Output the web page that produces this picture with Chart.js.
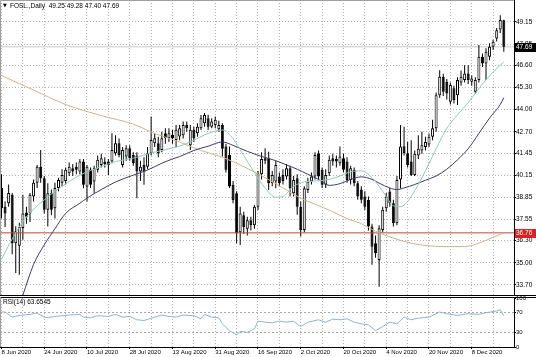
<!DOCTYPE html>
<html><head><meta charset="utf-8">
<script src="https://cdn.jsdelivr.net/npm/chart.js@4.4.1/dist/chart.umd.min.js"></script>
<style>
html,body{margin:0;padding:0;background:#fff;}
#wrap{position:relative;width:536px;height:357px;overflow:hidden;background:#fff;}
#main{position:absolute;left:0;top:0;}
#rsi{position:absolute;left:0;top:296px;}
</style></head><body>
<div id="wrap">
<canvas id="main" width="536" height="296"></canvas>
<canvas id="rsi" width="536" height="61"></canvas>
</div>
<script>
// ---------- DATA ----------
const symbol = 'FOSL.,Daily';
const open = [39.4,38.3,38.5,39.0,36.15,36.0,37.05,37.95,37.9,38.9,
39.7,40.65,39.97,38.11,39.09,38.2,39.4,39.7,39.8,40.26,
40.56,40.65,40.36,40.95,39.48,40.46,39.77,40.46,40.75,40.95,
40.95,40.95,41.44,42.02,40.75,41.24,41.73,41.34,41.3,40.36,
40.75,40.65,41.44,42.02,42.02,41.63,42.61,42.32,42.52,42.22,
42.42,42.5,43.1,41.9,42.81,42.61,42.91,43.2,43.49,43.0,
43.1,42.85,43.1,41.83,41.34,39.58,39.09,36.8,37.8,37.0,
37.5,37.2,38.3,40.2,41.14,41.14,39.68,39.77,40.07,40.16,
40.07,40.56,39.09,39.97,38.3,36.93,39.28,39.77,40.07,41.44,
40.46,39.58,40.26,41.14,41.1,40.85,41.14,40.95,39.87,40.46,
39.68,39.3,38.9,38.69,37.13,36.15,35.17,36.93,38.2,39.19,
38.5,37.33,39.9,41.85,41.43,40.95,40.16,41.3,41.6,41.8,
41.95,42.4,42.9,44.85,45.93,45.64,44.46,45.25,44.85,45.6,
45.74,46.12,45.64,45.05,45.74,47.1,46.71,47.1,47.69,48.18,
48.7,49.25];
const high = [40.2,38.6,39.6,39.1,37.15,37.35,39.0,38.3,39.1,39.9,
40.75,41.63,40.1,39.68,39.3,39.7,40.0,40.5,40.6,40.9,
40.8,40.9,41.1,41.1,40.75,40.6,40.7,41.3,41.4,41.2,
41.1,42.61,42.5,42.3,41.8,41.9,41.9,41.5,41.5,41.0,
41.2,41.8,43.59,42.6,42.4,42.7,42.9,42.9,42.8,43.1,
43.1,43.3,43.3,43.1,43.0,43.2,43.69,43.8,43.7,43.5,
43.6,43.35,43.2,42.0,41.83,39.8,39.2,38.3,38.0,37.7,
37.7,38.4,40.4,41.5,41.73,41.53,40.4,41.0,40.3,40.5,
40.8,40.7,40.1,40.2,38.6,39.5,40.0,40.3,41.5,41.6,
40.6,40.5,41.3,41.4,41.3,41.83,41.4,41.2,40.7,40.6,
39.8,39.5,39.2,38.9,37.3,36.6,37.2,38.3,39.1,39.4,
38.7,40.1,43.09,43.0,42.1,42.2,41.6,42.5,42.7,42.4,
42.6,43.4,45.0,46.32,46.1,45.8,45.6,45.4,45.9,46.3,
46.6,46.6,46.0,45.9,47.79,47.3,47.6,47.9,48.1,48.8,
49.55,49.28];
const low = [37.6,37.1,38.3,35.5,34.4,34.3,36.35,37.3,37.4,38.6,
39.4,39.7,37.9,37.13,37.8,37.6,39.2,39.5,39.6,40.1,
40.1,40.2,40.2,39.38,38.6,39.4,39.09,40.3,40.6,40.6,
40.16,40.85,41.3,41.2,40.6,41.0,41.0,40.7,38.8,39.8,
39.58,40.5,41.3,41.8,41.2,41.5,42.0,42.1,42.0,41.8,
42.2,42.3,42.7,41.63,42.1,42.4,42.8,43.0,42.8,42.9,
42.9,42.7,41.24,40.3,39.4,38.5,36.15,36.05,36.7,36.6,
36.9,37.0,38.1,39.9,40.8,39.28,39.5,39.38,39.5,39.6,
39.9,38.89,38.9,37.82,36.54,36.8,39.1,39.6,39.9,39.9,
39.4,39.4,40.1,40.7,40.6,40.7,40.3,39.7,39.6,39.5,
38.7,38.5,38.1,36.9,34.88,35.3,33.6,36.8,38.0,38.3,
37.13,37.2,39.37,41.3,40.6,40.1,40.1,41.1,41.4,41.6,
41.8,42.2,42.7,44.7,44.8,44.6,44.3,44.36,44.27,45.4,
45.6,45.5,45.4,44.95,45.6,46.5,45.74,46.9,47.5,48.0,
48.5,47.40];
const close = [38.2,37.9,39.1,36.15,36.85,37.1,37.9,37.7,39.0,39.7,
40.65,39.97,38.11,39.09,38.11,39.4,39.87,40.16,40.46,40.65,
40.36,40.46,40.95,39.58,40.65,39.58,40.56,41.05,41.14,40.8,
40.75,41.63,42.02,41.34,41.63,41.73,41.14,40.85,40.36,40.65,
40.36,41.44,42.22,42.32,41.44,42.32,42.32,42.61,42.32,42.81,
42.91,43.1,42.91,42.81,42.32,43.0,43.49,43.69,43.0,43.3,
43.4,43.1,41.7,40.46,39.48,38.69,36.74,37.9,37.1,37.5,
37.2,38.3,40.26,41.1,41.0,39.68,40.16,40.75,39.68,39.8,
40.56,39.38,39.87,38.3,36.93,39.38,39.77,40.07,41.34,40.07,
39.58,40.16,41.05,40.95,40.95,41.24,40.46,39.87,40.56,39.68,
38.89,38.7,38.3,37.13,35.95,35.56,37.03,38.11,38.89,38.5,
37.33,39.87,41.83,41.45,40.74,40.16,41.4,41.7,41.9,42.1,
42.4,42.9,44.85,45.93,45.05,44.95,45.44,44.56,45.74,45.93,
46.12,45.74,45.83,45.74,47.1,46.71,47.4,47.69,47.99,48.67,
49.27,47.69];

// moving averages, read at sampled bars
const maFastIdx = [0,3,7,12,16,22,28,32,37,42,46,50,54,58,62,65,68,71,74,77,79,82,85,88,92,95,98,101,104,106,108,110,112,114,117,119,122,125,128,131,135,138,141];
const maFastVal = [35.2,36.4,37.7,38.7,39.35,40.15,40.65,40.95,41.15,41.45,41.65,41.85,42.2,42.6,42.8,42.3,41.3,40.3,39.4,38.85,38.9,39.5,39.75,39.8,39.9,40.1,40.35,40.4,40.0,39.5,38.9,38.35,38.3,38.6,39.6,40.4,41.7,42.9,43.7,44.4,45.5,46.2,46.8];
const maMidIdx = [6,9,12,15,18,22,24,28,32,37,41,45,48,50,54,58,62,65,69,73,77,80,83,86,89,92,95,98,101,104,106,109,111,113,116,119,122,125,128,131,134,137,140,141];
const maMidVal = [33.1,34.9,36.05,37.0,37.9,38.5,38.8,39.3,39.75,40.15,40.45,40.85,41.1,41.24,41.6,41.85,42.1,41.9,41.55,41.25,41.0,40.75,40.5,40.2,39.9,39.55,39.65,39.9,40.05,39.9,39.68,39.4,39.3,39.4,39.6,39.85,40.1,40.5,41.05,41.7,42.6,43.5,44.3,44.7];
const maSlowIdx = [0,9,18,28,37,43,50,56,62,68,74,79,84,88,93,97,101,105,110,115,120,125,130,134,138,141];
const maSlowVal = [46.0,45.15,44.3,43.65,43.15,42.6,42.1,41.6,41.2,40.65,40.0,39.4,38.8,38.45,38.0,37.6,37.3,36.85,36.45,36.15,36.0,35.95,35.95,36.15,36.5,36.75];

const levelLine = 36.76;
const bidPrice = 47.69;

// RSI(14), read at sampled bars
const rsiIdx = [0,1,3,5,8,10,12,13,15,19,22,23,25,27,30,32,34,36,38,40,43,45,47,49,51,54,56,57,59,61,62,64,66,67,69,71,72,74,76,78,80,82,84,86,89,91,93,95,97,99,101,103,105,107,109,111,113,115,117,120,123,125,128,131,134,136,139,140,141];
const rsiVal = [71.4,71.4,61,64.5,66.6,69.3,61,60,62.4,65.2,66.6,61,59.7,63.8,62.4,66.6,61,62.4,55.5,54.1,61,65.2,62.4,61,65.2,63.8,57.6,66.6,61,59.7,47.2,33.4,24.5,32,30,36.9,52.8,50.7,49.3,52.8,50.7,52.8,41.7,50.7,55.5,50.7,56.9,55.5,57.6,50.7,47.2,45.2,33.4,41.7,50.7,47.2,61,55.5,59,61,71.4,67.9,64.5,67.9,66.6,70,73.4,76.2,63.65];
const rsiLabel = 'RSI(14) 63.6545';

// tick labels
const priceTicks = [33.70,35.00,36.30,37.55,38.85,40.15,41.45,42.70,44.00,45.30,46.60,47.85,49.15];
const rsiTicks = [0,30,70,100];
const rsiLevels = [30,70];
const dateTickIdx = [0,12,24,36,48,60,72,84,96,108,120,132];
const dateTickLabels = ['8 Jun 2020','24 Jun 2020','10 Jul 2020','28 Jul 2020','13 Aug 2020','31 Aug 2020','16 Sep 2020','2 Oct 2020','20 Oct 2020','4 Nov 2020','20 Nov 2020','8 Dec 2020'];

// ---------- LAYOUT / STYLE ----------
const FONT = 'Liberation Sans';
Chart.defaults.font.family = FONT;
Chart.defaults.color = '#000';
const X_MIN = -0.42, X_MAX = 143.86;
const Y_MIN = 33.05, Y_MAX = 50.44;
const AXIS_W = 22;
const GRID = '#b4b4b4';
const gridIdx = [];
for (let i = 0; i <= 141; i += 6) gridIdx.push(i);

const pts = (ix, vals) => ix.map((x, k) => ({x, y: vals[k]}));
const n = open.length;
const bodies = open.map((o, i) => ({x: i, y: [Math.min(o, close[i]), Math.max(o, close[i])]}));
const wicks = low.map((l, i) => ({x: i, y: [l, high[i]]}));
const isUp = open.map((o, i) => close[i] >= o);

function fixY(scale){ scale.width = AXIS_W; scale.paddingTop = 0; scale.paddingBottom = 0; }

const mainPlugin = {
  id: 'mainDecor',
  afterDraw(chart){
    const {ctx, chartArea: a, scales: {y}} = chart;
    ctx.save();
    ctx.strokeStyle = '#a0a0a0'; ctx.lineWidth = 1;
    ctx.beginPath(); ctx.moveTo(0.5, a.bottom); ctx.lineTo(0.5, 0.5); ctx.lineTo(a.right, 0.5); ctx.stroke();
    ctx.strokeStyle = '#000';
    ctx.beginPath(); ctx.moveTo(a.right + 0.5, 0); ctx.lineTo(a.right + 0.5, a.bottom); ctx.stroke();
    ctx.beginPath(); ctx.moveTo(0, a.bottom - 0.5); ctx.lineTo(536, a.bottom - 0.5); ctx.stroke();
    const box = (v, bg) => {
      const py = Math.round(y.getPixelForValue(v));
      ctx.fillStyle = bg; ctx.fillRect(a.right + 1, py - 4, AXIS_W, 9);
      ctx.fillStyle = '#fff'; ctx.font = '6.5px "' + FONT + '"';
      ctx.textAlign = 'left'; ctx.textBaseline = 'middle';
      ctx.fillText(v.toFixed(2), a.right + 2, py + 0.5);
    };
    box(bidPrice, '#000');
    box(levelLine, '#e0201e');
    const k = n - 1;
    ctx.fillStyle = '#000'; ctx.textAlign = 'left'; ctx.textBaseline = 'middle';
    ctx.font = '5px "DejaVu Sans"';
    ctx.fillText('▼', 3, 6);
    ctx.font = '6.5px "' + FONT + '"';
    ctx.fillText(symbol + '  ' + [open[k], high[k], low[k], close[k]].map(v => v.toFixed(2)).join(' '), 10, 6);
    ctx.restore();
  }
};

new Chart(document.getElementById('main'), {
  type: 'bar',
  data: {
    datasets: [
      {type: 'line', data: pts(maFastIdx, maFastVal), borderColor: '#8ec9bd', borderWidth: 1, pointRadius: 0, cubicInterpolationMode: 'monotone', order: 0},
      {type: 'line', data: pts(maMidIdx, maMidVal), borderColor: '#3c3c6a', borderWidth: 1, pointRadius: 0, cubicInterpolationMode: 'monotone', order: 0},
      {type: 'line', data: pts(maSlowIdx, maSlowVal), borderColor: '#cdb48f', borderWidth: 1, pointRadius: 0, cubicInterpolationMode: 'monotone', order: 0},
      {type: 'line', data: [{x: X_MIN, y: levelLine}, {x: X_MAX, y: levelLine}], borderColor: '#c44536', borderWidth: 1, pointRadius: 0, order: 0},
      {type: 'line', data: [{x: X_MIN, y: bidPrice}, {x: X_MAX, y: bidPrice}], borderColor: '#c8c8c8', borderWidth: 1, pointRadius: 0, order: 3},
      {type: 'bar', data: bodies, backgroundColor: bodies.map((b, i) => isUp[i] ? '#ffffff' : '#000000'), borderColor: '#000', borderWidth: 1, borderSkipped: false, inflateAmount: 0, grouped: false, barPercentage: 1, categoryPercentage: 1, maxBarThickness: 3, minBarLength: 1, order: 1},
      {type: 'bar', data: wicks, backgroundColor: '#000', borderWidth: 0, inflateAmount: 0, grouped: false, barPercentage: 1, categoryPercentage: 1, maxBarThickness: 1, order: 2}
    ]
  },
  options: {
    responsive: false, animation: false, events: [],
    layout: {padding: 0},
    plugins: {legend: {display: false}, tooltip: {enabled: false}},
    scales: {
      x: {type: 'linear', min: X_MIN, max: X_MAX, offset: false,
        afterBuildTicks: s => { s.ticks = gridIdx.map(v => ({value: v})); },
        afterFit: s => { s.height = 0; s.paddingLeft = 0; s.paddingRight = 0; },
        ticks: {display: false},
        grid: {color: GRID, drawTicks: false, offset: false},
        border: {display: false, dash: [1, 2]}},
      y: {type: 'linear', position: 'right', min: Y_MIN, max: Y_MAX,
        afterBuildTicks: s => { s.ticks = priceTicks.map(v => ({value: v})); },
        afterFit: fixY,
        ticks: {callback: v => v.toFixed(2), font: {size: 6.5}, color: '#000', padding: 0, autoSkip: false},
        grid: {color: GRID, drawTicks: true, tickLength: 2, tickColor: '#000'},
        border: {display: false, dash: [1, 2]}}
    }
  },
  plugins: [mainPlugin]
});

const rsiPlugin = {
  id: 'rsiDecor',
  afterDraw(chart){
    const {ctx, chartArea: a} = chart;
    ctx.save();
    ctx.strokeStyle = '#000'; ctx.lineWidth = 1;
    ctx.beginPath(); ctx.moveTo(0, 1.5); ctx.lineTo(536, 1.5); ctx.stroke();
    ctx.beginPath(); ctx.moveTo(a.right + 0.5, 1); ctx.lineTo(a.right + 0.5, a.bottom); ctx.stroke();
    ctx.beginPath(); ctx.moveTo(0, a.bottom + 0.5); ctx.lineTo(a.right + 1, a.bottom + 0.5); ctx.stroke();
    ctx.strokeStyle = '#a0a0a0';
    ctx.beginPath(); ctx.moveTo(0.5, 1); ctx.lineTo(0.5, a.bottom); ctx.stroke();
    ctx.fillStyle = '#000'; ctx.font = '6.5px "' + FONT + '"';
    ctx.textAlign = 'left'; ctx.textBaseline = 'middle';
    ctx.fillText(rsiLabel, 3, 6);
    ctx.restore();
  }
};

new Chart(document.getElementById('rsi'), {
  type: 'line',
  data: {datasets: [{data: pts(rsiIdx, rsiVal), borderColor: '#8ab6cc', borderWidth: 1, pointRadius: 0, tension: 0}]},
  options: {
    responsive: false, animation: false, events: [],
    layout: {padding: {top: 2, left: 0, right: 0, bottom: 0}},
    plugins: {legend: {display: false}, tooltip: {enabled: false}},
    scales: {
      x: {type: 'linear', min: X_MIN, max: X_MAX, offset: false,
        afterBuildTicks: s => { s.ticks = gridIdx.map(v => ({value: v})); },
        afterFit: s => { s.height = 10; s.paddingLeft = 0; s.paddingRight = 0; },
        ticks: {callback: v => { const k = dateTickIdx.indexOf(v); return k >= 0 ? dateTickLabels[k] : ''; },
          align: 'start', maxRotation: 0, minRotation: 0, autoSkip: false, padding: 0, font: {size: 6}, color: '#000'},
        grid: {color: GRID, drawTicks: true, tickLength: 2, tickColor: ctx => dateTickIdx.includes(ctx.tick && ctx.tick.value) ? '#000' : 'rgba(0,0,0,0)'},
        border: {display: false, dash: [1, 2]}},
      y: {type: 'linear', position: 'right', min: 0, max: 100,
        afterBuildTicks: s => { s.ticks = rsiTicks.map(v => ({value: v})); },
        afterFit: fixY,
        ticks: {font: {size: 6}, color: '#000', padding: 0, autoSkip: false},
        grid: {color: ctx => rsiLevels.includes(ctx.tick && ctx.tick.value) ? '#a8a8a8' : 'rgba(0,0,0,0)', drawTicks: true, tickLength: 2, tickColor: '#000'},
        border: {display: false, dash: [2, 2]}}
    }
  },
  plugins: [rsiPlugin]
});
</script>
</body></html>
